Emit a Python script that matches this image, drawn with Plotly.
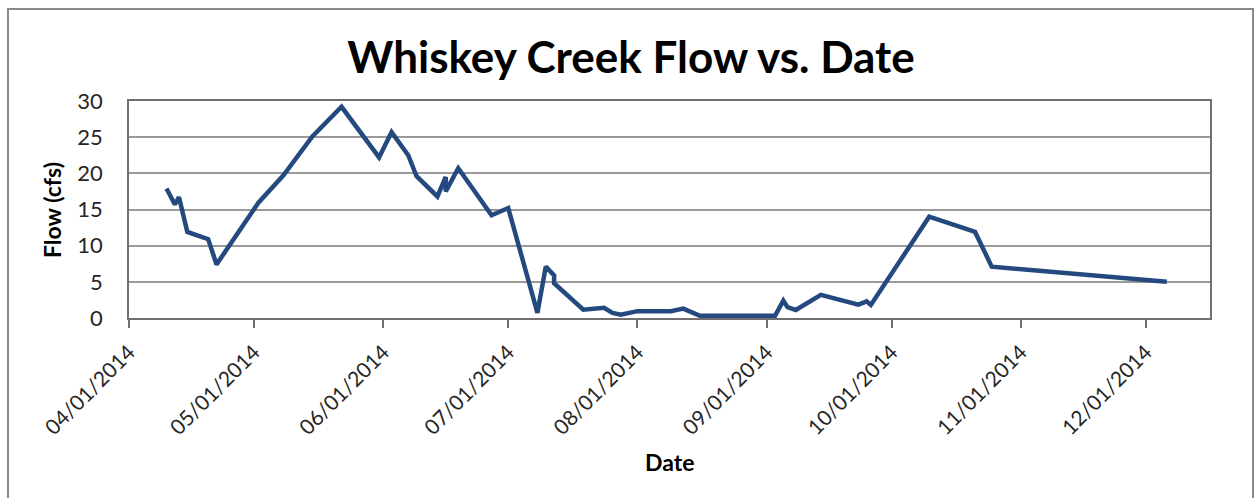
import plotly.graph_objects as go

# Whiskey Creek flow readings, 2014
dates = [
    "2014-04-10", "2014-04-12", "2014-04-13", "2014-04-15", "2014-04-20",
    "2014-04-22", "2014-05-02", "2014-05-08", "2014-05-15", "2014-05-22",
    "2014-05-31", "2014-06-03", "2014-06-07", "2014-06-09", "2014-06-14",
    "2014-06-16", "2014-06-16", "2014-06-19", "2014-06-27", "2014-07-01",
    "2014-07-08", "2014-07-10", "2014-07-12", "2014-07-12", "2014-07-19",
    "2014-07-24", "2014-07-26", "2014-07-28", "2014-08-01", "2014-08-09",
    "2014-08-12", "2014-08-16", "2014-09-03", "2014-09-05", "2014-09-06",
    "2014-09-08", "2014-09-14", "2014-09-23", "2014-09-25", "2014-09-26",
    "2014-10-10", "2014-10-21", "2014-10-25", "2014-12-06",
]
flow_cfs = [
    17.9, 15.7, 16.7, 11.9, 10.9,
    7.4, 15.9, 19.7, 25.1, 29.2,
    22.2, 25.7, 22.5, 19.6, 16.8,
    19.5, 17.5, 20.7, 14.2, 15.2,
    0.7, 7.1, 5.9, 4.8, 1.15,
    1.4, 0.7, 0.45, 0.95, 0.95,
    1.3, 0.3, 0.3, 2.4, 1.5,
    1.1, 3.2, 1.85, 2.3, 1.8,
    14.0, 11.9, 7.1, 5.0,
]

title_text = "Whiskey Creek Flow vs. Date"
x_title = "Date"
y_title = "Flow (cfs)"

W, H = 1257, 498
L, R, T, B = 129, 47, 101, 180
pw, ph = W - L - R, H - T - B


def px_x(px):
    return (px - L) / pw


def px_y(py):
    return (H - B - py) / ph


font_family = "Lato, 'Open Sans', sans-serif"

fig = go.Figure(
    go.Scatter(
        x=dates,
        y=flow_cfs,
        mode="lines",
        line=dict(color="#23497E", width=4.5, shape="linear"),
        hoverinfo="x+y",
    )
)

fig.update_layout(
    width=W,
    height=H,
    margin=dict(l=L, r=R, t=T, b=B, pad=0),
    paper_bgcolor="white",
    plot_bgcolor="white",
    showlegend=False,
    title=dict(
        text=title_text,
        x=631 / W,
        xref="container",
        xanchor="center",
        y=1 - 58 / H,
        yref="container",
        yanchor="middle",
        font=dict(family=font_family, size=44, color="black", weight="bold"),
    ),
    annotations=[
        dict(
            text=y_title, textangle=-90, showarrow=False,
            xref="paper", yref="paper", x=px_x(52), y=px_y(210),
            xanchor="center", yanchor="middle",
            font=dict(family=font_family, size=23, color="black", weight="bold"),
        ),
        dict(
            text=x_title, showarrow=False,
            xref="paper", yref="paper", x=0.5, y=px_y(462),
            xanchor="center", yanchor="middle",
            font=dict(family=font_family, size=23, color="black", weight="bold"),
        ),
    ],
    shapes=[
        dict(
            type="rect", xref="paper", yref="paper",
            x0=px_x(8), x1=px_x(1253), y0=px_y(520), y1=px_y(9),
            line=dict(color="#8a8a8a", width=2), fillcolor="rgba(0,0,0,0)",
            layer="below",
        )
    ],
)

fig.update_xaxes(
    type="date",
    range=["2014-04-01", "2014-12-16 09:00"],
    tick0="2014-04-01",
    dtick="M1",
    tickformat="%m/%d/%Y",
    tickangle=-45,
    ticks="outside",
    ticklen=8,
    tickwidth=1.5,
    tickcolor="#6f6f6f",
    ticklabelstandoff=4,
    showline=True,
    linecolor="#6f6f6f",
    linewidth=1.5,
    mirror=True,
    showgrid=False,
    zeroline=False,
    tickfont=dict(family=font_family, size=21, color="#262626"),
)

fig.update_yaxes(
    range=[0, 30],
    dtick=5,
    tick0=0,
    ticks="",
    ticklabelstandoff=20,
    showline=True,
    linecolor="#6f6f6f",
    linewidth=1.5,
    mirror=True,
    showgrid=True,
    gridcolor="#9a9a9a",
    gridwidth=1.5,
    zeroline=False,
    tickfont=dict(family=font_family, size=22, color="#262626"),
)

fig.write_html("out.html")
